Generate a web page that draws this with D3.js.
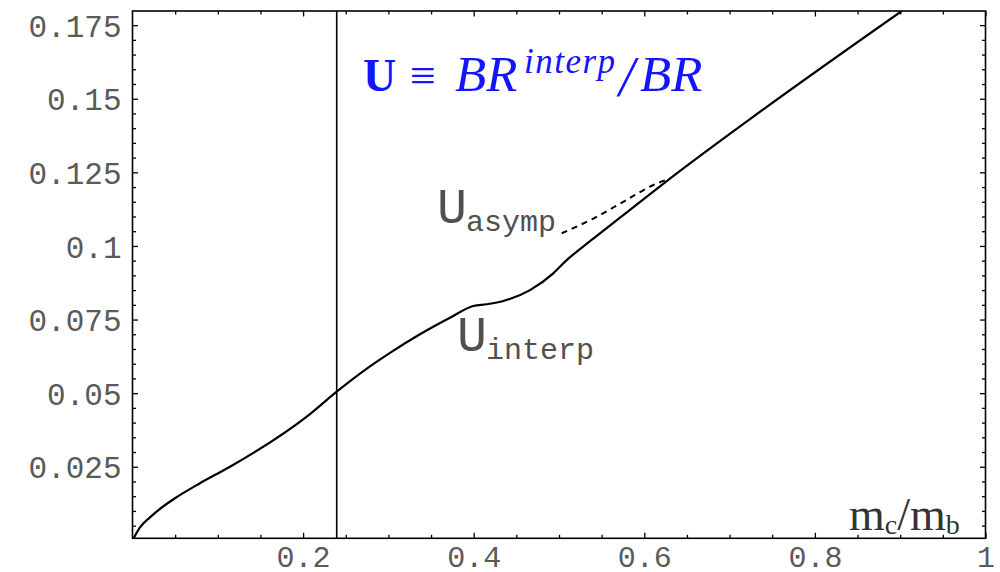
<!DOCTYPE html>
<html>
<head>
<meta charset="utf-8">
<script src="https://cdn.jsdelivr.net/npm/d3@7"></script>
<style>
  body { margin: 0; background: #fff; }
  .tick-label { font-family: "Liberation Mono", monospace; fill: #5a5a5a; }
  .curve-label { font-family: "Liberation Mono", monospace; fill: #505050; }
  .formula { font-family: "Liberation Serif", serif; fill: #1414ff; }
</style>
</head>
<body>
<div id="chart"></div>
<script>
// U_interp (solid curve)
const interpX = [0, 0.0088, 0.0205, 0.0322, 0.0498, 0.0791, 0.1143, 0.2081, 0.2394,
                 0.2784, 0.3019, 0.3370, 0.3722, 0.3995, 0.4152, 0.4347, 0.4660, 0.4933, 0.5090,
                 0.5246, 0.5402, 0.5715, 0.6301, 0.7239, 0.9018];
const interpY = [0, 0.0044, 0.0078, 0.0107, 0.0143, 0.0194, 0.0250, 0.0429, 0.0505,
                 0.0591, 0.0637, 0.0700, 0.0756, 0.0796, 0.0802, 0.0813, 0.0850, 0.0907, 0.0952,
                 0.0989, 0.1025, 0.1096, 0.1229, 0.1431, 0.1798];

// U_asymp (dashed curve), runs under the solid one after it joins
const asympX = [0.5032, 0.5402, 0.5754, 0.6106, 0.6301];
const asympY = [0.1043, 0.1093, 0.1150, 0.1207, 0.1229];

// vertical marker
const markerX = 0.2394;

// ticks
const xMajor = [0.2, 0.4, 0.6, 0.8, 1];
const xTickLabels = ["0.2", "0.4", "0.6", "0.8", "1"];
const yMajor = [0.025, 0.05, 0.075, 0.1, 0.125, 0.15, 0.175];
const yTickLabels = ["0.025", "0.05", "0.075", "0.1", "0.125", "0.15", "0.175"];

const width = 1000;
const height = 572;
const plot = {left: 132.5, right: 985.5, top: 11, bottom: 538.3};

const svg = d3.select("#chart")
  .append("svg")
    .attr("width", width)
    .attr("height", height);

const xScale = d3.scaleLinear()
  .domain([0, 1])
  .range([plot.left, plot.right]);
const yScale = d3.scaleLinear()
  .domain([0.0007, 0.1798])
  .range([plot.bottom, plot.top]);

// minor ticks (every 0.05 on x, every 0.005 on y)
const xMinor = d3.range(1, 20).map(i => i * 0.05).filter(v => !xMajor.some(m => Math.abs(m - v) < 1e-6));
const yMinor = d3.range(1, 36).map(i => i * 0.005).filter(v => !yMajor.some(m => Math.abs(m - v) < 1e-6));

svg.append("defs").append("clipPath")
    .attr("id", "clip")
  .append("rect")
    .attr("x", plot.left)
    .attr("y", plot.top)
    .attr("width", plot.right - plot.left)
    .attr("height", plot.bottom - plot.top);

// Frame ticks, all pointing inward
const drawTicks = (axis, tx, ty) => {
  const g = svg.append("g")
    .attr("transform", `translate(${tx}, ${ty})`)
    .call(axis);
  g.select(".domain").remove();
  g.selectAll(".tick line").attr("stroke", "#000").attr("stroke-width", 1.3);
  return g;
};

drawTicks(d3.axisBottom(xScale).tickValues(xMinor).tickSize(-3.5).tickFormat(""), 0, plot.bottom);
drawTicks(d3.axisTop(xScale).tickValues(xMinor).tickSize(-3.5).tickFormat(""), 0, plot.top);
drawTicks(d3.axisTop(xScale).tickValues(xMajor).tickSize(-5.5).tickFormat(""), 0, plot.top);
drawTicks(d3.axisLeft(yScale).tickValues(yMinor).tickSize(-3.5).tickFormat(""), plot.left, 0);
drawTicks(d3.axisRight(yScale).tickValues(yMinor).tickSize(-3.5).tickFormat(""), plot.right, 0);
drawTicks(d3.axisRight(yScale).tickValues(yMajor).tickSize(-5.5).tickFormat(""), plot.right, 0);

const xAxis = drawTicks(
  d3.axisBottom(xScale).tickValues(xMajor).tickSize(-5.5).tickPadding(0)
    .tickFormat((d, i) => xTickLabels[i]),
  0, plot.bottom);
xAxis.selectAll("text")
  .attr("class", "tick-label")
  .attr("y", 29)
  .attr("dy", 0)
  .style("font-size", "30px");

const yAxis = drawTicks(
  d3.axisLeft(yScale).tickValues(yMajor).tickSize(-5.5).tickPadding(11)
    .tickFormat((d, i) => yTickLabels[i]),
  plot.left, 0);
yAxis.selectAll("text")
  .attr("class", "tick-label")
  .attr("dy", "0.36em")
  .style("font-size", "31px");

// Frame
svg.append("rect")
  .attr("x", plot.left)
  .attr("y", plot.top)
  .attr("width", plot.right - plot.left)
  .attr("height", plot.bottom - plot.top)
  .attr("fill", "none")
  .attr("stroke", "#000")
  .attr("stroke-width", 1.6);

const inner = svg.append("g").attr("clip-path", "url(#clip)");

// Vertical marker line
inner.append("line")
  .attr("x1", xScale(markerX))
  .attr("x2", xScale(markerX))
  .attr("y1", plot.top)
  .attr("y2", plot.bottom)
  .attr("stroke", "#000")
  .attr("stroke-width", 1.6);

const line = d3.line()
  .x(d => xScale(d[0]))
  .y(d => yScale(d[1]))
  .curve(d3.curveMonotoneX);

inner.append("path")
  .datum(asympX.map((x, i) => [x, asympY[i]]))
  .attr("d", line)
  .attr("fill", "none")
  .attr("stroke", "#000")
  .attr("stroke-width", 2)
  .attr("stroke-dasharray", "6,5");

inner.append("path")
  .datum(interpX.map((x, i) => [x, interpY[i]]))
  .attr("d", line)
  .attr("fill", "none")
  .attr("stroke", "#000")
  .attr("stroke-width", 2.2);

// Curve labels
const subLabel = (x, y, main, sub) => {
  const t = svg.append("text")
    .attr("class", "curve-label")
    .attr("x", x)
    .attr("y", y);
  t.append("tspan").style("font-size", "50px").text(main);
  t.append("tspan").style("font-size", "30px").attr("dy", 8).attr("dx", -1).text(sub);
};
subLabel(437, 223, "U", "asymp");
subLabel(457, 351, "U", "interp");

// x-axis name inside the frame
const xName = svg.append("text")
  .attr("x", 849)
  .attr("y", 530)
  .style("font-family", "Liberation Serif, serif")
  .style("fill", "#333");
xName.append("tspan").style("font-size", "46px").text("m");
xName.append("tspan").style("font-size", "28px").attr("dy", 4).text("c");
xName.append("tspan").style("font-size", "46px").attr("dy", -4).text("/m");
xName.append("tspan").style("font-size", "28px").attr("dy", 4).text("b");

// Formula, pieces placed where they sit in the picture
const formula = svg.append("text")
  .attr("class", "formula")
  .attr("y", 91);
formula.append("tspan").attr("x", 363).style("font-size", "46px").style("font-weight", "bold").text("U");
formula.append("tspan").attr("x", 410).style("font-size", "46px").text("\u2261");
formula.append("tspan").attr("x", 455).style("font-size", "51px").style("font-style", "italic").text("BR");
formula.append("tspan").attr("x", 524).attr("y", 73).style("font-size", "35px").style("font-style", "italic")
  .style("letter-spacing", "1.5px").text("interp");
formula.append("tspan").attr("x", 619).attr("y", 96).style("font-size", "56px").style("font-style", "italic").text("/");
formula.append("tspan").attr("x", 640).attr("y", 91).style("font-size", "51px").style("font-style", "italic").text("BR");
</script>
</body>
</html>
